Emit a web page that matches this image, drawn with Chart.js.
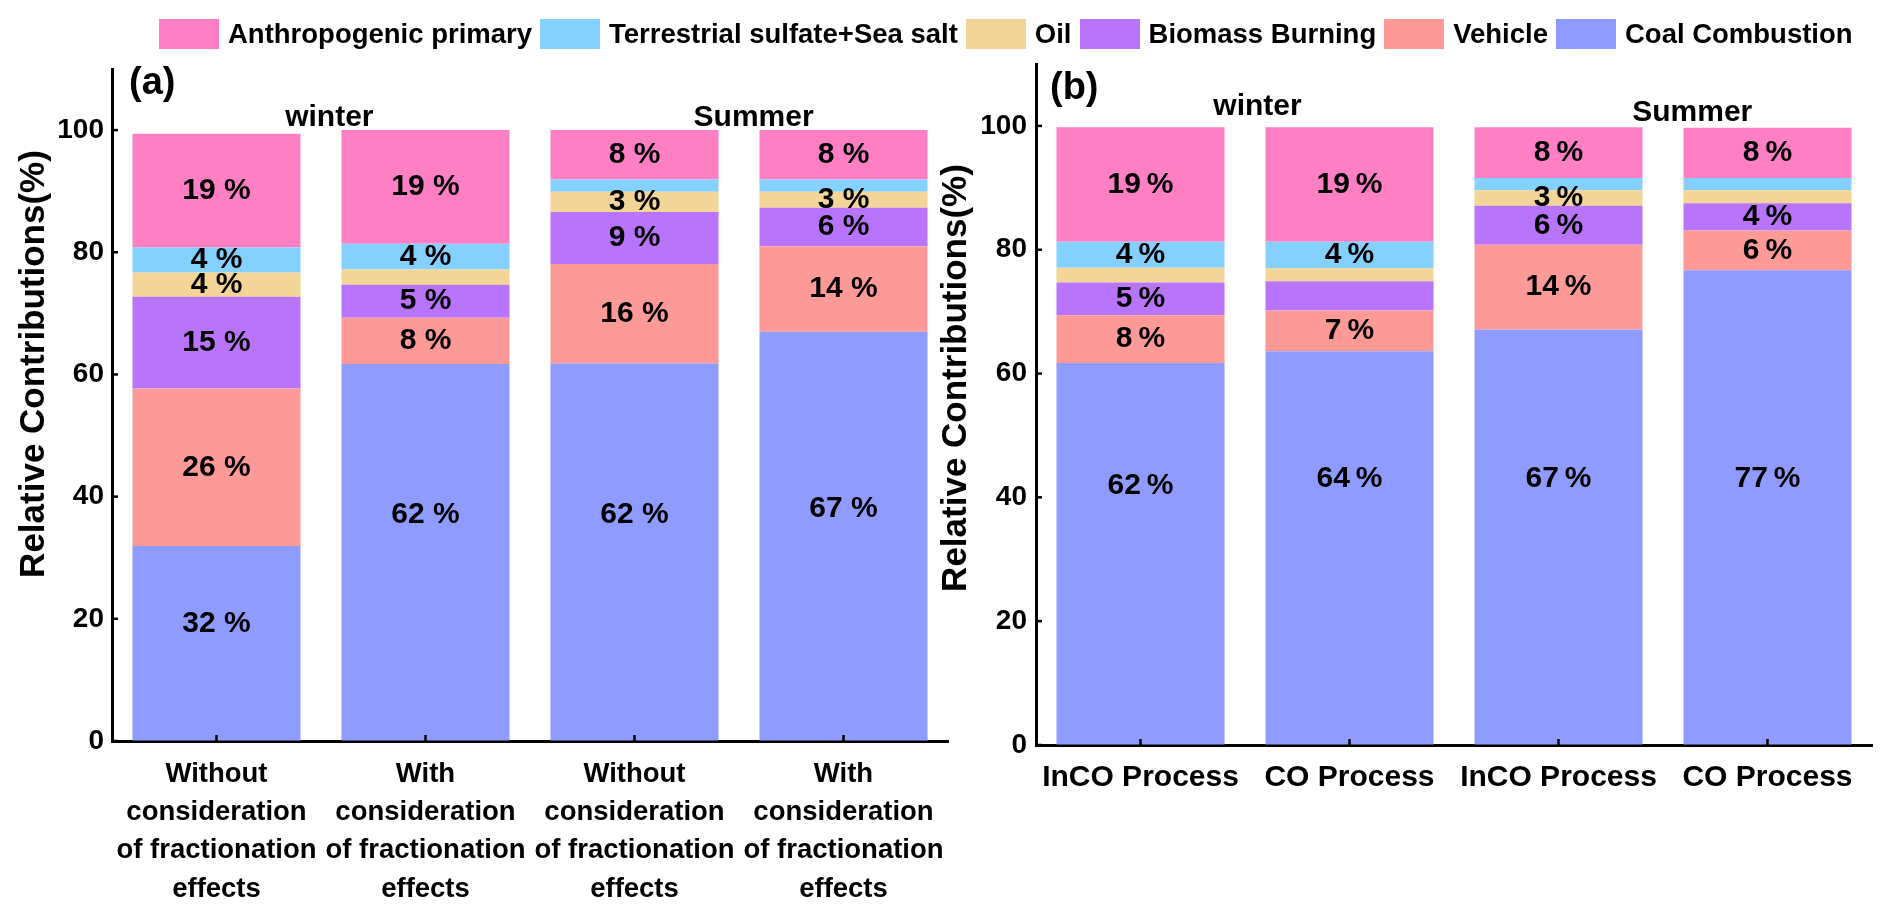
<!DOCTYPE html>
<html>
<head>
<meta charset="utf-8">
<script src="https://cdn.jsdelivr.net/npm/chart.js@4.4.1/dist/chart.umd.min.js"></script>
<style>
  body { margin: 0; background: #fff; }
  #wrap { position: relative; width: 1892px; height: 920px; overflow: hidden; }
  #legend { position: absolute; left: 159px; top: 19px; display: flex; font: bold 27.5px "Liberation Sans", Arial, sans-serif; color: #000; }
  .item { display: flex; align-items: center; margin-right: 8px; height: 30px; }
  .box { width: 60px; height: 30px; margin-right: 9px; }
  #boxA { position: absolute; left: 0; top: 0; width: 960px; height: 920px; }
  #boxB { position: absolute; left: 920px; top: 0; width: 972px; height: 920px; }
</style>
</head>
<body>
<div id="wrap">
  <div id="boxA"><canvas id="chartA"></canvas></div>
  <div id="boxB"><canvas id="chartB"></canvas></div>
  <div id="legend"></div>
</div>
<script>
// --- series (stack order, bottom to top) ---
const seriesNames = ["Coal Combustion", "Vehicle", "Biomass Burning", "Oil", "Terrestrial sulfate+Sea salt", "Anthropogenic primary"];
const seriesColors = ["#8f9bff", "#fd9a97", "#b874fb", "#f3d598", "#84d0ff", "#ff7fc5"];

// --- categories ---
const categoriesA = [
  ["Without", "consideration", "of fractionation", "effects"],
  ["With", "consideration", "of fractionation", "effects"],
  ["Without", "consideration", "of fractionation", "effects"],
  ["With", "consideration", "of fractionation", "effects"]
];
const categoriesB = ["InCO Process", "CO Process", "InCO Process", "CO Process"];
const yTicks = [0, 20, 40, 60, 80, 100];

// --- panel (a) values (%) ---
const coalA = [31.9, 61.7, 61.8, 67.0];
const vehicleA = [25.8, 7.6, 16.3, 14.0];
const biomassA = [15.0, 5.4, 8.5, 6.3];
const oilA = [4.0, 2.5, 3.3, 2.6];
const terrA = [4.1, 4.2, 2.0, 2.0];
const anthroA = [18.6, 18.6, 8.1, 8.1];

// --- panel (b) values (%) ---
const coalB = [61.7, 63.6, 67.1, 76.7];
const vehicleB = [7.7, 6.6, 13.7, 6.4];
const biomassB = [5.3, 4.7, 6.3, 4.4];
const oilB = [2.4, 2.1, 2.5, 2.1];
const terrB = [4.2, 4.3, 2.0, 2.0];
const anthroB = [18.5, 18.5, 8.2, 8.1];

// --- printed percentages (null = no label) ---
const coalLabA = [32, 62, 62, 67];
const vehicleLabA = [26, 8, 16, 14];
const biomassLabA = [15, 5, 9, 6];
const oilLabA = [4, null, 3, 3];
const terrLabA = [4, 4, null, null];
const anthroLabA = [19, 19, 8, 8];

const coalLabB = [62, 64, 67, 77];
const vehicleLabB = [8, 7, 14, 6];
const biomassLabB = [5, null, 6, 4];
const oilLabB = [null, null, 3, null];
const terrLabB = [4, 4, null, null];
const anthroLabB = [19, 19, 8, 8];

const FONT = '"Liberation Sans", Arial, sans-serif';

function buildDatasets(values, labels) {
  return seriesNames.map((name, i) => ({
    label: name,
    data: values[i],
    pct: labels[i],
    backgroundColor: seriesColors[i],
    borderWidth: 0,
    barPercentage: 0.804,
    categoryPercentage: 1
  }));
}

// labels, inner ticks, panel letter, season titles, y title
const decorPlugin = {
  id: "decor",
  afterDraw(chart, args, opts) {
    const ctx = chart.ctx;
    const xs = chart.scales.x, ys = chart.scales.y;
    ctx.save();
    ctx.strokeStyle = "#000";
    ctx.lineWidth = 2.5;
    xs.ticks.forEach((t, i) => {
      const px = xs.getPixelForTick(i);
      ctx.beginPath(); ctx.moveTo(px, ys.bottom); ctx.lineTo(px, ys.bottom - 6); ctx.stroke();
    });
    ys.ticks.forEach((t, i) => {
      const py = ys.getPixelForTick(i);
      ctx.beginPath(); ctx.moveTo(xs.left, py); ctx.lineTo(xs.left + 6, py); ctx.stroke();
    });

    ctx.fillStyle = "#000";
    ctx.textAlign = "center";
    ctx.textBaseline = "middle";
    ctx.font = "bold 30px " + FONT;
    chart.data.datasets.forEach((ds, di) => {
      const meta = chart.getDatasetMeta(di);
      meta.data.forEach((bar, i) => {
        const v = ds.pct[i];
        if (v === null) return;
        let cy = (bar.y + bar.base) / 2;
        if (di === 0) cy = ys.getPixelForValue(Math.min(ds.data[i] * opts.coalFrac, opts.coalCap));
        ctx.fillText(v + opts.sep + "%", bar.x, cy);
      });
    });

    ctx.font = "bold 30px " + FONT;
    ctx.textBaseline = "alphabetic";
    opts.seasons.forEach(s => {
      ctx.fillText(s.text, xs.getPixelForValue(s.x), ys.getPixelForValue(s.y));
    });

    ctx.font = "bold 38px " + FONT;
    ctx.textAlign = "left";
    ctx.textBaseline = "middle";
    ctx.fillText(opts.letter, opts.letterX, opts.letterY);

    ctx.font = "bold 35px " + FONT;
    ctx.translate(opts.titleX, opts.titleY);
    ctx.rotate(-Math.PI / 2);
    ctx.textAlign = "center";
    ctx.fillText("Relative Contributions(%)", 0, 0);
    ctx.restore();
  }
};

function makeOptions(cfg) {
  return {
    responsive: true,
    maintainAspectRatio: false,
    animation: false,
    layout: { padding: { top: cfg.padTop, right: cfg.padRight, left: 0, bottom: 0 } },
    plugins: {
      legend: { display: false },
      tooltip: { enabled: false },
      decor: cfg.decor
    },
    scales: {
      x: {
        stacked: true,
        z: 1,
        grid: { display: true, drawOnChartArea: false, drawTicks: false },
        border: { display: true, color: "#000", width: 3 },
        ticks: {
          color: "#000",
          font: { family: FONT, size: cfg.xFont, weight: "bold", lineHeight: 38.3 / cfg.xFont },
          padding: cfg.xPad,
          maxRotation: 0,
          autoSkip: false
        },
        afterFit(s) { s.height = cfg.xHeight; }
      },
      y: {
        stacked: true,
        z: 1,
        min: 0,
        max: 110,
        grid: { display: true, drawOnChartArea: false, drawTicks: false },
        border: { display: true, color: "#000", width: 3 },
        ticks: {
          stepSize: 20,
          color: "#000",
          font: { family: FONT, size: 28, weight: "bold" },
          padding: cfg.yPad
        },
        afterBuildTicks(s) { s.ticks = s.ticks.filter(t => yTicks.includes(t.value)); },
        afterFit(s) { s.width = cfg.yWidth; }
      }
    }
  };
}

new Chart(document.getElementById("chartA"), {
  type: "bar",
  data: {
    labels: categoriesA,
    datasets: buildDatasets(
      [coalA, vehicleA, biomassA, oilA, terrA, anthroA],
      [coalLabA, vehicleLabA, biomassLabA, oilLabA, terrLabA, anthroLabA]
    )
  },
  options: makeOptions({
    padTop: 69, padRight: 12, yWidth: 112, xHeight: 179, xPad: 14, yPad: 8, xFont: 27.5,
    decor: {
      sep: " ", coalFrac: 0.6, coalCap: 38,
      letter: "(a)", letterX: 129, letterY: 84,
      titleX: 34, titleY: 364,
      seasons: [{ text: "winter", x: 0.54, y: 100.7 }, { text: "Summer", x: 2.57, y: 100.7 }]
    }
  }),
  plugins: [decorPlugin]
});

new Chart(document.getElementById("chartB"), {
  type: "bar",
  data: {
    labels: categoriesB,
    datasets: buildDatasets(
      [coalB, vehicleB, biomassB, oilB, terrB, anthroB],
      [coalLabB, vehicleLabB, biomassLabB, oilLabB, terrLabB, anthroLabB]
    )
  },
  options: makeOptions({
    padTop: 64, padRight: 20, yWidth: 116, xHeight: 175, xPad: 14, yPad: 9, xFont: 30,
    decor: {
      sep: "\u2009", coalFrac: 0.68, coalCap: 43,
      letter: "(b)", letterX: 130, letterY: 89,
      titleX: 36, titleY: 378,
      seasons: [{ text: "winter", x: 0.56, y: 101.8 }, { text: "Summer", x: 2.64, y: 100.8 }]
    }
  }),
  plugins: [decorPlugin]
});

// --- shared legend (top row) ---
const legend = document.getElementById("legend");
seriesNames.slice().reverse().forEach((name, k) => {
  const i = seriesNames.length - 1 - k;
  const item = document.createElement("div");
  item.className = "item";
  const box = document.createElement("div");
  box.className = "box";
  box.style.background = seriesColors[i];
  const txt = document.createElement("span");
  txt.textContent = name;
  item.appendChild(box);
  item.appendChild(txt);
  legend.appendChild(item);
});
</script>
</body>
</html>
